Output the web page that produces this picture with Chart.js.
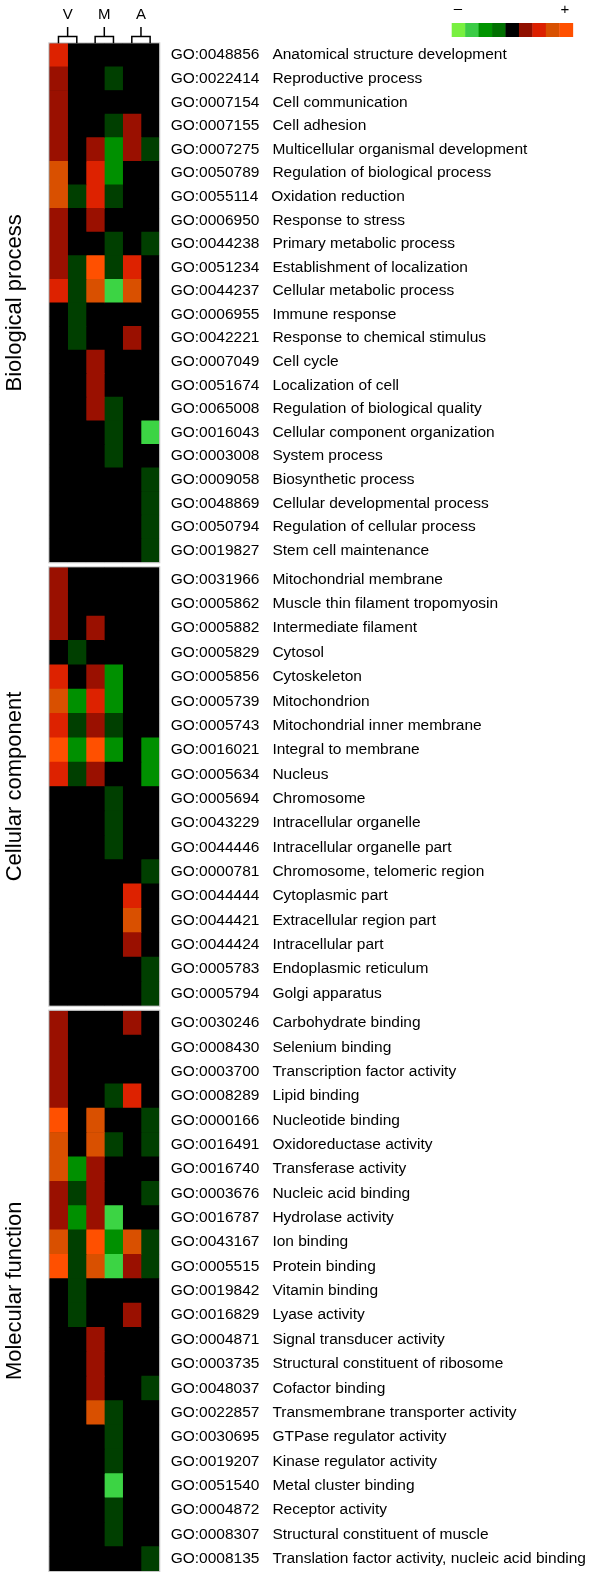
<!DOCTYPE html>
<html>
<head>
<meta charset="utf-8">
<script src="https://cdn.jsdelivr.net/npm/chart.js@4.4.1/dist/chart.umd.min.js"></script>
<style>
  body { margin:0; background:#fff; }
  #wrap { position:relative; width:600px; height:1581px; overflow:hidden; }
  .panel { position:absolute; left:0; width:600px; }
  canvas { display:block; }
</style>
</head>
<body>
<div id="wrap">
  <div class="panel" style="top:0px"><canvas id="chart_bp" width="600" height="565"></canvas></div>
  <div class="panel" style="top:565px"><canvas id="chart_cc" width="600" height="443"></canvas></div>
  <div class="panel" style="top:1008px"><canvas id="chart_mf" width="600" height="573"></canvas></div>
</div>
<script>
// column groups (two columns each): V1 V2 M1 M2 A1 A2
const groups = ['V', 'M', 'A'];

// values: -3..-1 down (greens), 0 none, 1..4 up (reds)
const bpIds = ['GO:0048856','GO:0022414','GO:0007154','GO:0007155','GO:0007275','GO:0050789','GO:0055114','GO:0006950','GO:0044238','GO:0051234','GO:0044237','GO:0006955','GO:0042221','GO:0007049','GO:0051674','GO:0065008','GO:0016043','GO:0003008','GO:0009058','GO:0048869','GO:0050794','GO:0019827'];
const bpNames = ['Anatomical structure development','Reproductive process','Cell communication','Cell adhesion','Multicellular organismal development','Regulation of biological process','Oxidation reduction','Response to stress','Primary metabolic process','Establishment of localization','Cellular metabolic process','Immune response','Response to chemical stimulus','Cell cycle','Localization of cell','Regulation of biological quality','Cellular component organization','System process','Biosynthetic process','Cellular developmental process','Regulation of cellular process','Stem cell maintenance'];
const bpValues = [
  [2,0,0,0,0,0],[1,0,0,-1,0,0],[1,0,0,0,0,0],[1,0,0,-1,1,0],[1,0,1,-2,1,-1],
  [3,0,2,-2,0,0],[3,-1,2,-1,0,0],[1,0,1,0,0,0],[1,0,0,-1,0,-1],[1,-1,4,-1,2,0],
  [2,-1,3,-3,3,0],[0,-1,0,0,0,0],[0,-1,0,0,1,0],[0,0,1,0,0,0],[0,0,1,0,0,0],
  [0,0,1,-1,0,0],[0,0,0,-1,0,-3],[0,0,0,-1,0,0],[0,0,0,0,0,-1],[0,0,0,0,0,-1],
  [0,0,0,0,0,-1],[0,0,0,0,0,-1]
];

const ccIds = ['GO:0031966','GO:0005862','GO:0005882','GO:0005829','GO:0005856','GO:0005739','GO:0005743','GO:0016021','GO:0005634','GO:0005694','GO:0043229','GO:0044446','GO:0000781','GO:0044444','GO:0044421','GO:0044424','GO:0005783','GO:0005794'];
const ccNames = ['Mitochondrial membrane','Muscle thin filament tropomyosin','Intermediate filament','Cytosol','Cytoskeleton','Mitochondrion','Mitochondrial inner membrane','Integral to membrane','Nucleus','Chromosome','Intracellular organelle','Intracellular organelle part','Chromosome, telomeric region','Cytoplasmic part','Extracellular region part','Intracellular part','Endoplasmic reticulum','Golgi apparatus'];
const ccValues = [
  [1,0,0,0,0,0],[1,0,0,0,0,0],[1,0,1,0,0,0],[0,-1,0,0,0,0],[2,0,1,-2,0,0],
  [3,-2,2,-2,0,0],[2,-1,1,-1,0,0],[4,-2,4,-2,0,-2],[2,-1,1,0,0,-2],[0,0,0,-1,0,0],
  [0,0,0,-1,0,0],[0,0,0,-1,0,0],[0,0,0,0,0,-1],[0,0,0,0,2,0],[0,0,0,0,3,0],
  [0,0,0,0,1,0],[0,0,0,0,0,-1],[0,0,0,0,0,-1]
];

const mfIds = ['GO:0030246','GO:0008430','GO:0003700','GO:0008289','GO:0000166','GO:0016491','GO:0016740','GO:0003676','GO:0016787','GO:0043167','GO:0005515','GO:0019842','GO:0016829','GO:0004871','GO:0003735','GO:0048037','GO:0022857','GO:0030695','GO:0019207','GO:0051540','GO:0004872','GO:0008307','GO:0008135'];
const mfNames = ['Carbohydrate binding','Selenium binding','Transcription factor activity','Lipid binding','Nucleotide binding','Oxidoreductase activity','Transferase activity','Nucleic acid binding','Hydrolase activity','Ion binding','Protein binding','Vitamin binding','Lyase activity','Signal transducer activity','Structural constituent of ribosome','Cofactor binding','Transmembrane transporter activity','GTPase regulator activity','Kinase regulator activity','Metal cluster binding','Receptor activity','Structural constituent of muscle','Translation factor activity, nucleic acid binding'];
const mfValues = [
  [1,0,0,0,1,0],[1,0,0,0,0,0],[1,0,0,0,0,0],[1,0,0,-1,2,0],[4,0,3,0,0,-1],
  [3,0,3,-1,0,-1],[3,-2,1,0,0,0],[1,-1,1,0,0,-1],[1,-2,1,-3,0,0],[3,-1,4,-2,3,-1],
  [4,-1,3,-3,1,-1],[0,-1,0,0,0,0],[0,-1,0,0,1,0],[0,0,1,0,0,0],[0,0,1,0,0,0],
  [0,0,1,0,0,-1],[0,0,3,-1,0,0],[0,0,0,-1,0,0],[0,0,0,-1,0,0],[0,0,0,-3,0,0],
  [0,0,0,-1,0,0],[0,0,0,-1,0,0],[0,0,0,0,0,-1]
];

// colour key shown top right
const keyColors = ['#78f040','#3ccc46','#009400','#007000','#000000','#901000','#dc2000','#d85000','#ff5000'];

const cellColor = {'-3':'#3cd444','-2':'#009000','-1':'#003f00','0':'#000000','1':'#9a1000','2':'#dd2200','3':'#d95000','4':'#ff5000'};
const FONT = 'Arial, "Liberation Sans", sans-serif';

/*** black background + thin frame ***/
const panelFrame = {
  id:'panelFrame',
  beforeDatasetsDraw(chart){
    const {ctx, chartArea:a} = chart;
    ctx.save();
    ctx.fillStyle = '#000';
    ctx.fillRect(a.left, a.top, a.width, a.height);
    ctx.restore();
  },
  afterDatasetsDraw(chart){
    const {ctx, chartArea:a} = chart;
    ctx.save();
    ctx.strokeStyle = '#c8c8c8';
    ctx.lineWidth = 1;
    ctx.strokeRect(a.left - 0.5, a.top - 0.5, a.width + 1, a.height + 1);
    ctx.restore();
  }
};

/*** V M A brackets and colour key ***/
const header = {
  id:'header',
  afterDraw(chart){
    const ctx = chart.ctx, xs = chart.scales.x, top = chart.chartArea.top;
    ctx.save();
    ctx.strokeStyle = '#000';
    ctx.fillStyle = '#000';
    ctx.lineWidth = 1.5;
    ctx.font = '15px ' + FONT;
    ctx.textAlign = 'center';
    ctx.textBaseline = 'middle';
    groups.forEach((g, k) => {
      const x0 = xs.getPixelForValue(2*k + 0.5);
      const x1 = xs.getPixelForValue(2*k + 1.5);
      const xm = (x0 + x1) / 2;
      ctx.fillText(g, xm, 15);
      ctx.beginPath();
      ctx.moveTo(xm, 27);
      ctx.lineTo(xm, 36.5);
      ctx.moveTo(x0, top);
      ctx.lineTo(x0, 36.5);
      ctx.lineTo(x1, 36.5);
      ctx.lineTo(x1, top);
      ctx.stroke();
    });

    const kx = 451.7, kw = 13.45, ky = 23, kh = 14;
    keyColors.forEach((c, i) => {
      ctx.fillStyle = c;
      ctx.fillRect(kx + i*kw, ky, kw + 0.4, kh);
    });
    ctx.fillStyle = '#000';
    ctx.font = '15px ' + FONT;
    ctx.fillText('\u2013', 458, 9);
    ctx.fillText('+', 565, 10);
    ctx.restore();
  }
};

function makePanel(id, title, ids, names, values, padTop, padBottom, extra){
  let ctx = document.getElementById(id).getContext('2d');
  let datasets = [0,1,2,3,4,5].map(j => ({
    label:'col' + j,
    data:values.map(() => 1),
    backgroundColor:values.map(r => cellColor[r[j]]),
    borderWidth:0,
    barPercentage:1,
    categoryPercentage:1
  }));

  return new Chart(ctx,{
    type:'bar',
    data:{
      labels:ids.map((g, i) => g + '   ' + names[i]),
      datasets:datasets
    },
    options:{
      responsive:false,
      animation:false,
      indexAxis:'y',
      layout:{
        padding:{top:padTop, bottom:padBottom, left:0, right:0}
      },
      plugins:{
        legend:{display:false},
        tooltip:{enabled:false},
        title:{
          display:true,
          position:'left',
          text:title,
          color:'#000',
          font:{family:FONT, size:22, weight:'normal', lineHeight:1},
          padding:{top:4, bottom:23.3}
        }
      },
      scales:{
        x:{
          display:false,
          stacked:true,
          min:0,
          max:6
        },
        y:{
          position:'right',
          stacked:true,
          grid:{display:false, drawTicks:false},
          border:{display:false},
          ticks:{
            color:'#000',
            autoSkip:false,
            padding:11.4,
            font:{family:FONT, size:15.5}
          },
          afterFit:function(scale){
            scale.width = 440.7;
            scale.paddingTop = 0;
            scale.paddingBottom = 0;
          }
        }
      }
    },
    plugins:extra ? [panelFrame, extra] : [panelFrame]
  });
}

makePanel('chart_bp', 'Biological process', bpIds, bpNames, bpValues, 43.3, 2.7, header);
makePanel('chart_cc', 'Cellular component', ccIds, ccNames, ccValues, 2.3, 2.3);
makePanel('chart_mf', 'Molecular function', mfIds, mfNames, mfValues, 2.7, 10);
</script>
</body>
</html>
